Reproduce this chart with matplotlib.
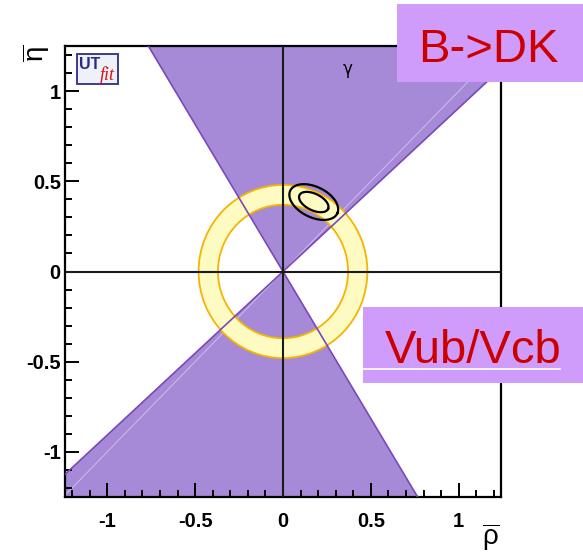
import matplotlib
matplotlib.use("Agg")
import matplotlib.pyplot as plt
import matplotlib.patches as mpatches
import numpy as np

plt.rcParams['font.family'] = ['Liberation Sans', 'DejaVu Sans']
plt.rcParams['mathtext.fontset'] = 'custom'
plt.rcParams['mathtext.rm'] = 'Liberation Sans'
plt.rcParams['mathtext.it'] = 'Liberation Sans'

# gamma band from B->DK (degrees, edges of the double wedge)
gamma_edges = [42.2, 121.5]
# Vub/Vcb ring radii
ring_radii = [0.37, 0.48]
# fit contours: centre, semi-axes, tilt (deg)
contour_center = [0.175, 0.385]
contour_a = [0.09, 0.148]
contour_b = [0.046, 0.085]
contour_tilt = [-25, -25]

tick_vals = [-1, -0.5, 0, 0.5, 1]
tick_labels = ["-1", "-0.5", "0", "0.5", "1"]

purple = "#a68ad8"
purple_edge = "#7a48b8"

fig = plt.figure(figsize=(5.83, 5.56), dpi=100)
ax = fig.add_axes([65/583, 1-497/556, 436/583, 451/556])
ax.set_xlim(-1.24, 1.24)
ax.set_ylim(-1.25, 1.25)

# wedge (both halves)
R = 5.0
for off in [0, 180]:
    t1 = np.radians(gamma_edges[0] + off)
    t2 = np.radians(gamma_edges[1] + off)
    poly = mpatches.Polygon([[0, 0], [R*np.cos(t1), R*np.sin(t1)], [R*np.cos(t2), R*np.sin(t2)]],
                            closed=True, facecolor=purple, edgecolor="none", zorder=1)
    ax.add_patch(poly)
# faint seam in the fill
ax.plot([-R, R], [-R, R], color="white", lw=0.6, alpha=0.5, zorder=1.5)

# ring
ax.add_patch(mpatches.Annulus((0, 0), ring_radii[1], ring_radii[1]-ring_radii[0],
                              facecolor="#fdfbc2", edgecolor="none", zorder=2))
for r in ring_radii:
    ax.add_patch(mpatches.Circle((0, 0), r, facecolor="none", edgecolor="#f5b400", lw=1.3, zorder=2.5))

# wedge edges
for ang in gamma_edges:
    t = np.radians(ang)
    ax.plot([-R*np.cos(t), R*np.cos(t)], [-R*np.sin(t), R*np.sin(t)], color=purple_edge, lw=1.2, zorder=3)

# zero lines
ax.axhline(0, color="#1a1a1a", lw=1.5, zorder=4)
ax.axvline(0, color="#1a1a1a", lw=1.5, zorder=4)

# contours
tt = np.linspace(0, 2*np.pi, 200)
for a, b, tilt in zip(contour_a, contour_b, contour_tilt):
    th = np.radians(tilt)
    x = a*np.cos(tt)*np.cos(th) - b*np.sin(tt)*np.sin(th) + contour_center[0]
    y = a*np.cos(tt)*np.sin(th) + b*np.sin(tt)*np.cos(th) + contour_center[1]
    ax.plot(x, y, color="black", lw=1.6, zorder=5)

ax.text(0.37, 1.12, "γ", fontsize=12, ha="center", va="center", family=["DejaVu Sans"], zorder=6)

# ticks
ax.set_xticks(tick_vals)
ax.set_xticklabels(tick_labels)
ax.set_yticks(tick_vals)
ax.set_yticklabels(tick_labels)
ax.set_xticks(np.arange(-1.2, 1.25, 0.1), minor=True)
ax.set_yticks(np.arange(-1.2, 1.25, 0.1), minor=True)
ax.tick_params(which="both", direction="in", top=False, right=False, width=1.4, colors="black")
ax.tick_params(which="major", length=10)
ax.tick_params(which="minor", length=5)
ax.tick_params(axis="x", which="major", pad=11)
ax.tick_params(axis="y", which="major", pad=3)
for lab in ax.get_xticklabels() + ax.get_yticklabels():
    lab.set_fontweight("bold")
    lab.set_fontsize(14.5)
for s in ax.spines.values():
    s.set_linewidth(1.6)

# axis titles
fig.text(500/583, 1-553/556, r"$\overline{\mathrm{\rho}}$", fontsize=20, ha="right", va="bottom")
fig.text(36/583, 1-53/556, r"$\overline{\mathrm{\eta}}$", fontsize=20, ha="center", va="center", rotation=90)

# UTfit logo
ax.add_patch(mpatches.Rectangle((0.0275, 0.916), 0.094, 0.066, transform=ax.transAxes,
                                facecolor="#eef0fa", edgecolor="#3c3c8c", lw=1.4, zorder=7))
ax.text(0.031, 0.960, "UT", transform=ax.transAxes, fontsize=11.5, fontweight="bold",
        color="#2a2a80", ha="left", va="center", zorder=8)
ax.text(0.079, 0.936, "fit", transform=ax.transAxes, fontsize=13, style="italic",
        family=["Liberation Serif"], color="#dd1111", ha="left", va="center", zorder=8)

# label boxes
fig.patches.append(mpatches.Rectangle((397/583, 1-82/556), 186/583, 78/556, transform=fig.transFigure,
                                      facecolor="#d09cfc", edgecolor="none", zorder=10))
fig.text(488/583, 1-62/556, "B->DK", fontsize=34, color="#cc0000", ha="center", va="baseline", zorder=11)
fig.patches.append(mpatches.Rectangle((363/583, 1-383/556), 220/583, 76/556, transform=fig.transFigure,
                                      facecolor="#d09cfc", edgecolor="none", zorder=10))
fig.text(473.5/583, 1-363/556, "Vub/Vcb", fontsize=34, color="#cc0000", ha="center", va="baseline", zorder=11)
fig.lines.append(plt.Line2D([363/583, 560/583], [1-369/556, 1-369/556], transform=fig.transFigure,
                            color="white", lw=1.2, zorder=11))

fig.savefig("out.png", dpi=100)
